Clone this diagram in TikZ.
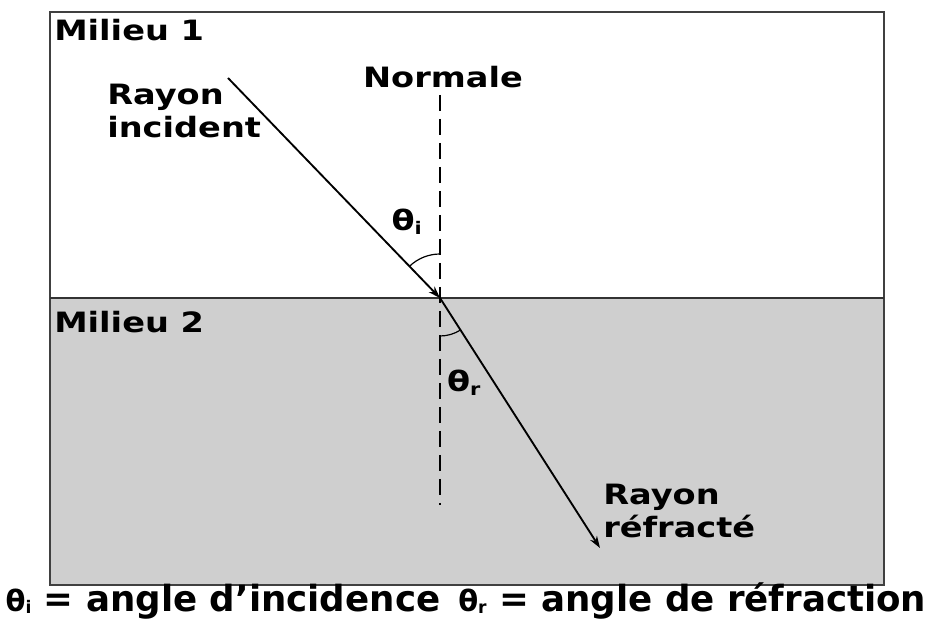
\documentclass[tikz,border=0pt]{standalone}
\usepackage{fontspec}
\setmainfont{DejaVu Sans}
\newfontfamily\labelfont[FakeStretch=1.2]{DejaVu Sans}
\newfontfamily\capfont[FakeStretch=0.99]{DejaVu Sans}
\usetikzlibrary{arrows.meta}
\definecolor{milieugris}{RGB}{207,207,207}
\newcommand{\capangle}[1]{{\fontsize{22}{22}\selectfont θ}\raisebox{-2pt}{\fontsize{13}{13}\selectfont #1}}
\begin{document}
\begin{tikzpicture}[x=0.75pt, y=0.75pt, every node/.style={font=\labelfont\bfseries\fontsize{21}{25}\selectfont, align=left, inner sep=0pt},
  ray/.style={line width=1.4pt, -{Stealth[length=9pt, width=6pt]}}]
\useasboundingbox (0,0) rectangle (931,621);
\fill[milieugris] (50,36) rectangle (884,323);
\draw[line width=1.2pt, black!75] (50,36) rectangle (884,609);
\draw[line width=0.9pt, black!80] (50,323) -- (884,323);
\coordinate (O) at (440,323);
\coordinate (src) at (228,543);
\coordinate (dst) at (600,73);
\coordinate (ntop) at (440,526);
\coordinate (nbot) at (440,116);
\node[anchor=west] (m1) at (54,591) {Milieu 1};
\node[anchor=west] (m2) at (54,299) {Milieu 2};
\node (normale) at (443,544) {Normale};
\node[anchor=west] (inc) at (107,510) {Rayon\\incident};
\node[anchor=west] (refr) at (603,110) {Rayon\\réfracté};
\node (ti) at (407,399) {θ\textsubscript{\fontsize{13}{13}\selectfont i}};
\node (tr) at (464,238) {θ\textsubscript{\fontsize{13}{13}\selectfont r}};
\draw[line width=1.4pt, dash pattern=on 12pt off 6pt] (ntop) -- (nbot);
\draw[ray] (src) -- (O);
\draw[ray] (O) -- (dst);
% arcs for the two angles
\draw[line width=0.9pt] ([shift={(134:44)}]O) arc (134:90:44);
\draw[line width=0.9pt] ([shift={(270:38)}]O) arc (270:303:38);
\node[anchor=base] (legende) at (466,10) {\capfont\fontsize{27}{29}\selectfont \capangle{i} = angle d’incidence\enspace \capangle{r} = angle de réfraction};
\end{tikzpicture}
\end{document}
